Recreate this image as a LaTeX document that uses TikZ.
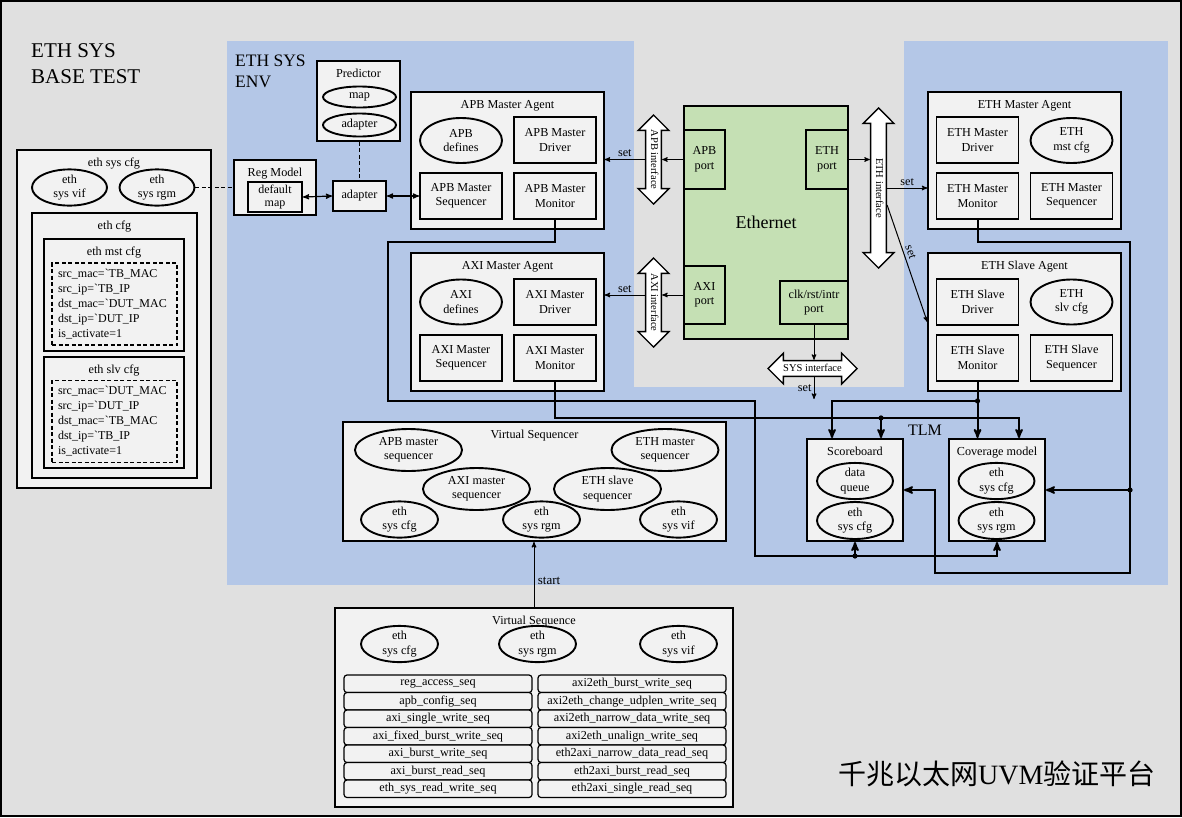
\documentclass[tikz,border=0pt]{standalone}
\usepackage{fontspec}
\setmainfont{Liberation Serif}
\newfontfamily\cjkfont{Noto Sans CJK SC}
\usepackage{xcolor}
\usetikzlibrary{arrows,shapes.geometric,shapes.arrows}

\definecolor{bggray}{RGB}{224,224,224}
\definecolor{boxfill}{RGB}{242,242,242}
\definecolor{envblue}{RGB}{180,199,231}
\definecolor{dutgreen}{RGB}{197,224,180}
\newcommand{\fsmain}{\fontsize{12.2}{14.5}\selectfont}
\newcommand{\fsif}{\fontsize{10.5}{12}\selectfont}

\begin{document}
\begin{tikzpicture}[x=1pt,y=-1pt,draw=black,
  every node/.style={font=\fsmain,align=center},
  blk/.style={draw,line width=1.9pt,fill=boxfill,inner sep=1pt},
  cont/.style={draw,line width=1.3pt,fill=boxfill},
  ell/.style={ellipse,draw,line width=1.9pt,fill=boxfill,inner sep=0pt},
  ublk/.style={blk,minimum width=82pt,minimum height=46pt},
  uell/.style={ell,minimum width=82pt,minimum height=45pt},
  sqell/.style={ell,minimum width=107pt,minimum height=42pt},
  cfgell/.style={ell,minimum width=77pt,minimum height=35pt},
  dutport/.style={draw,line width=1.9pt,fill=dutgreen,inner sep=1pt},
  ttl/.style={label={[anchor=north,inner sep=0pt,yshift=-8.5pt]north:#1}},
  lst/.style={draw,dash pattern=on 4pt off 2.5pt,line width=1.2pt,fill=boxfill,minimum width=125pt,minimum height=82pt,text width=113pt,align=left,font=\fontsize{12}{15}\selectfont},
  seqitem/.style={draw,line width=1.2pt,rounded corners=3pt,fill=boxfill,minimum width=188pt,minimum height=17.5pt,inner sep=0pt},
  dblar/.style={double arrow,draw,fill=white,line width=1.4pt,double arrow head extend=7.5pt,inner sep=2.2pt,text height=7.5pt,text depth=2.5pt,font=\fsif,minimum height=#1},
  wire/.style={->,>=stealth',line width=2pt},
  setar/.style={->,>=stealth',line width=1pt}]
\useasboundingbox (0,0) rectangle (1182,817);
\fill[bggray] (0,0) rectangle (1182,817);
\fill[envblue] (227,41) rectangle (1168,585);
\fill[bggray] (634,41) rectangle (904,387);

\node[anchor=north west,inner sep=0pt,align=left,font=\fontsize{21}{26}\selectfont] (testname) at (31,43) {ETH SYS\\BASE TEST};
\node[anchor=north west,inner sep=0pt,align=left,font=\fontsize{17.5}{21}\selectfont] (envname) at (235,55) {ETH SYS\\ENV};

% test configuration
\node[cont,ttl=eth sys cfg,minimum width=194pt,minimum height=338pt] (syscfg) at (114,319) {};
\node[cfgell,minimum width=75pt,minimum height=31pt] (cfgvif) at (69.5,187.5) {eth\\sys vif};
\node[cfgell,minimum width=75pt,minimum height=31pt] (cfgrgm) at (157,187.5) {eth\\sys rgm};
\node[blk,ttl=eth cfg,minimum width=165pt,minimum height=265pt] (ethcfg) at (114.5,345.5) {};
\node[blk,ttl=eth mst cfg,minimum width=140pt,minimum height=112pt] (mstcfg) at (114,295) {};
\node[lst] (mstlist) at (114.5,304) {src\_mac=\textasciigrave TB\_MAC\\src\_ip=\textasciigrave TB\_IP\\dst\_mac=\textasciigrave DUT\_MAC\\dst\_ip=\textasciigrave DUT\_IP\\is\_activate=1};
\node[blk,ttl=eth slv cfg,minimum width=140pt,minimum height=111pt] (slvcfg) at (114,412.5) {};
\node[lst] (slvlist) at (114.5,421.5) {src\_mac=\textasciigrave DUT\_MAC\\src\_ip=\textasciigrave DUT\_IP\\dst\_mac=\textasciigrave TB\_MAC\\dst\_ip=\textasciigrave TB\_IP\\is\_activate=1};

% register model
\node[blk,ttl=Predictor,minimum width=83pt,minimum height=80pt] (predictor) at (358.5,101) {};
\node[ell,minimum width=73pt,minimum height=21pt] (predmap) at (359.5,97) {map};
\node[ell,minimum width=73pt,minimum height=23pt] (predadp) at (359.5,125) {adapter};
\node[blk,ttl=Reg Model,minimum width=82pt,minimum height=55pt] (regmodel) at (275,187.5) {};
\node[blk,minimum width=54pt,minimum height=30pt,font=\fontsize{12}{13}\selectfont] (dmap) at (275,197) {default\\map};
\node[blk,minimum width=53pt,minimum height=30pt] (adapter) at (359.5,196) {adapter};

% agents
\node[cont,ttl=APB Master Agent,minimum width=193pt,minimum height=137pt] (apbagent) at (507.5,160.5) {};
\node[uell] (apbdef) at (461,140.5) {APB\\defines};
\node[ublk] (apbdrv) at (555,140) {APB Master\\Driver};
\node[ublk] (apbseq) at (461,196) {APB Master\\Sequencer};
\node[ublk] (apbmon) at (555,196) {APB Master\\Monitor};

\node[cont,ttl=AXI Master Agent,minimum width=193pt,minimum height=138pt] (axiagent) at (507.5,322) {};
\node[uell] (axidef) at (461,302) {AXI\\defines};
\node[ublk] (axidrv) at (555,302) {AXI Master\\Driver};
\node[ublk] (axiseq) at (461,358) {AXI Master\\Sequencer};
\node[ublk] (aximon) at (555,358) {AXI Master\\Monitor};

\node[cont,ttl=ETH Master Agent,minimum width=193pt,minimum height=137pt] (ethmagent) at (1024.5,160.5) {};
\node[ublk] (ethmdrv) at (977.5,140) {ETH Master\\Driver};
\node[uell] (ethmcfg) at (1071.5,140.5) {ETH\\mst cfg};
\node[ublk] (ethmmon) at (977.5,196) {ETH Master\\Monitor};
\node[ublk] (ethmseq) at (1071.5,196) {ETH Master\\Sequencer};

\node[cont,ttl=ETH Slave Agent,minimum width=193pt,minimum height=138pt] (ethsagent) at (1024.5,322) {};
\node[ublk] (ethsdrv) at (977.5,302) {ETH Slave\\Driver};
\node[uell] (ethscfg) at (1071.5,302) {ETH\\slv cfg};
\node[ublk] (ethsmon) at (977.5,358) {ETH Slave\\Monitor};
\node[ublk] (ethsseq) at (1071.5,358) {ETH Slave\\Sequencer};

% DUT
\node[dutport,minimum width=164pt,minimum height=233pt,font=\fontsize{18}{20}\selectfont] (eth) at (766,222.5) {Ethernet};
\node[dutport,minimum width=41pt,minimum height=59pt] (apbport) at (704.5,159.5) {APB\\port};
\node[dutport,minimum width=42pt,minimum height=59pt] (ethport) at (827,159.5) {ETH\\port};
\node[dutport,minimum width=41pt,minimum height=58pt] (axiport) at (704.5,295) {AXI\\port};
\node[dutport,minimum width=68pt,minimum height=43pt] (clkport) at (814,302.5) {clk/rst/intr\\port};

\node[dblar=89pt,rotate=-90] (apbif) at (653.5,159.5) {APB interface};
\node[dblar=89pt,rotate=-90] (axiif) at (653.5,302.5) {AXI interface};
\node[dblar=160pt,rotate=-90] (ethif) at (878.5,188) {ETH interface};
\node[dblar=89pt] (sysif) at (812.5,368.5) {SYS interface};

% scoreboard and coverage
\node[font=\fontsize{16}{18}\selectfont,anchor=base] (tlm) at (925,435) {TLM};
\node[blk,ttl=Scoreboard,minimum width=96pt,minimum height=102pt] (scb) at (855,490) {};
\node[cfgell,minimum width=76pt,minimum height=32pt] (scbq) at (855,481) {data\\queue};
\node[cfgell,minimum width=76pt,minimum height=37pt] (scbcfg) at (855,520.5) {eth\\sys cfg};
\node[blk,ttl=Coverage model,minimum width=96pt,minimum height=102pt] (covm) at (997,490) {};
\node[cfgell,minimum width=76pt,minimum height=32pt] (covcfg) at (996.5,481) {eth\\sys cfg};
\node[cfgell,minimum width=76pt,minimum height=37pt] (covrgm) at (996.5,520.5) {eth\\sys rgm};

% virtual sequencer
\node[blk,ttl=Virtual Sequencer,minimum width=383pt,minimum height=119pt] (vsqr) at (534.5,481.5) {};
\node[sqell] (vapb) at (408.5,450) {APB master\\sequencer};
\node[sqell] (vethm) at (665,450) {ETH master\\sequencer};
\node[sqell] (vaxi) at (476.5,489) {AXI master\\sequencer};
\node[sqell] (veths) at (607.5,489) {ETH slave\\sequencer};
\node[cfgell] (vcfg) at (399.5,519.5) {eth\\sys cfg};
\node[cfgell] (vrgm) at (541.5,519.5) {eth\\sys rgm};
\node[cfgell] (vvif) at (678.5,519.5) {eth\\sys vif};

% virtual sequence
\node[blk,ttl=Virtual Sequence,minimum width=398pt,minimum height=199pt] (vseq) at (534,707.5) {};
\node[cfgell,minimum height=32pt] (qcfg) at (399.5,644) {eth\\sys cfg};
\node[cfgell,minimum height=32pt] (qrgm) at (537.5,644) {eth\\sys rgm};
\node[cfgell,minimum height=32pt] (qvif) at (678.5,644) {eth\\sys vif};
\node[seqitem] (regacc) at (438,683.75) {reg\_access\_seq};
\node[seqitem] (apbconf) at (438,701.25) {apb\_config\_seq};
\node[seqitem] (axisw) at (438,718.75) {axi\_single\_write\_seq};
\node[seqitem] (axifbw) at (438,736.25) {axi\_fixed\_burst\_write\_seq};
\node[seqitem] (axibw) at (438,753.75) {axi\_burst\_write\_seq};
\node[seqitem] (axibr) at (438,771.25) {axi\_burst\_read\_seq};
\node[seqitem] (sysrw) at (438,788.75) {eth\_sys\_read\_write\_seq};
\node[seqitem] (aebw) at (632,683.75) {axi2eth\_burst\_write\_seq};
\node[seqitem] (aeudp) at (632,701.25) {axi2eth\_change\_udplen\_write\_seq};
\node[seqitem] (aenw) at (632,718.75) {axi2eth\_narrow\_data\_write\_seq};
\node[seqitem] (aeuw) at (632,736.25) {axi2eth\_unalign\_write\_seq};
\node[seqitem] (eanr) at (632,753.75) {eth2axi\_narrow\_data\_read\_seq};
\node[seqitem] (eabr) at (632,771.25) {eth2axi\_burst\_read\_seq};
\node[seqitem] (easr) at (632,788.75) {eth2axi\_single\_read\_seq};

\node[anchor=base west,inner sep=0pt,font=\fontsize{28}{30}\selectfont] (platname) at (838,784) {{\cjkfont 千兆以太网}UVM{\cjkfont 验证平台}};

% connections
\draw[dash pattern=on 4pt off 2.5pt,line width=1.2pt] (cfgrgm.east) -- (cfgrgm.east -| regmodel.west);
\draw[dash pattern=on 4pt off 2.5pt,line width=1.2pt] (predictor.south -| adapter.north) -- (adapter.north);
\draw[<->,>=stealth',line width=1.2pt] (dmap.east) -- (adapter.west);
\draw[<->,>=stealth',line width=1.2pt] (adapter.east) -- (apbseq.west);

\draw[setar] (apbport.west) -- (apbport.west -| apbif.north);
\draw[setar] (apbport.west -| apbif.south) -- (apbport.west -| apbagent.east) node[midway,above,inner sep=2pt] {set};
\draw[setar] (axiport.west) -- (axiport.west -| axiif.north);
\draw[setar] (axiport.west -| axiif.south) -- (axiport.west -| axiagent.east) node[midway,above,inner sep=2pt] {set};
\draw[setar] (ethport.east) -- (ethport.east -| ethif.south);
\draw[setar] (ethif.north) -- (ethif.north -| ethmagent.west) node[midway,above,inner sep=2pt] {set};
\draw[setar] ([yshift=-17pt]ethif.north) -- (ethsagent.west) node[pos=0.42,above,sloped,inner sep=3pt] {set};
\coordinate (sysset) at (814,399);
\draw[setar] (clkport.south) -- (clkport.south |- sysif.north);
\draw[setar] (clkport.south |- sysif.south) -- (sysset) node[midway,left,inner sep=2pt] {set};
\draw[setar] (vseq.north) -- (vseq.north |- vsqr.south) node[pos=0.4,right,font=\fontsize{13}{14}\selectfont] {start};

% TLM wires
\coordinate (scbleft) at ([xshift=-23pt]scb.north);
\coordinate (scbright) at ([xshift=26pt]scb.north);
\coordinate (covright) at ([xshift=22pt]covm.north);
\draw[wire] (apbmon.south) -- ++(0,22) -| (388,401) -| (755,556) coordinate (lowbus) -| (covm.south);
\draw[wire] (scb.south |- lowbus) -- (scb.south);
\fill (scb.south |- lowbus) circle (2.6pt);
\draw[wire] (aximon.south) -- ++(0,36) coordinate (axibus) -| (covright);
\draw[wire] (scbright |- axibus) -- (scbright);
\fill (scbright |- axibus) circle (2.6pt);
\draw[wire] (ethsmon.south) -- ++(0,19) coordinate (ethsbus) -- (ethsmon.south |- covm.north);
\draw[wire] (ethsbus) -| (scbleft);
\fill (ethsbus) circle (2.6pt);
\draw[wire] (ethmmon.south) -- ++(0,22) -| (1130,573) coordinate (rbus) -- (935,573) |- (scb.east);
\draw[wire] (rbus |- covm.east) -- (covm.east);
\fill (rbus |- covm.east) circle (2.6pt);

\draw[line width=2pt] (1,1) rectangle (1181,816);
\end{tikzpicture}
\end{document}
